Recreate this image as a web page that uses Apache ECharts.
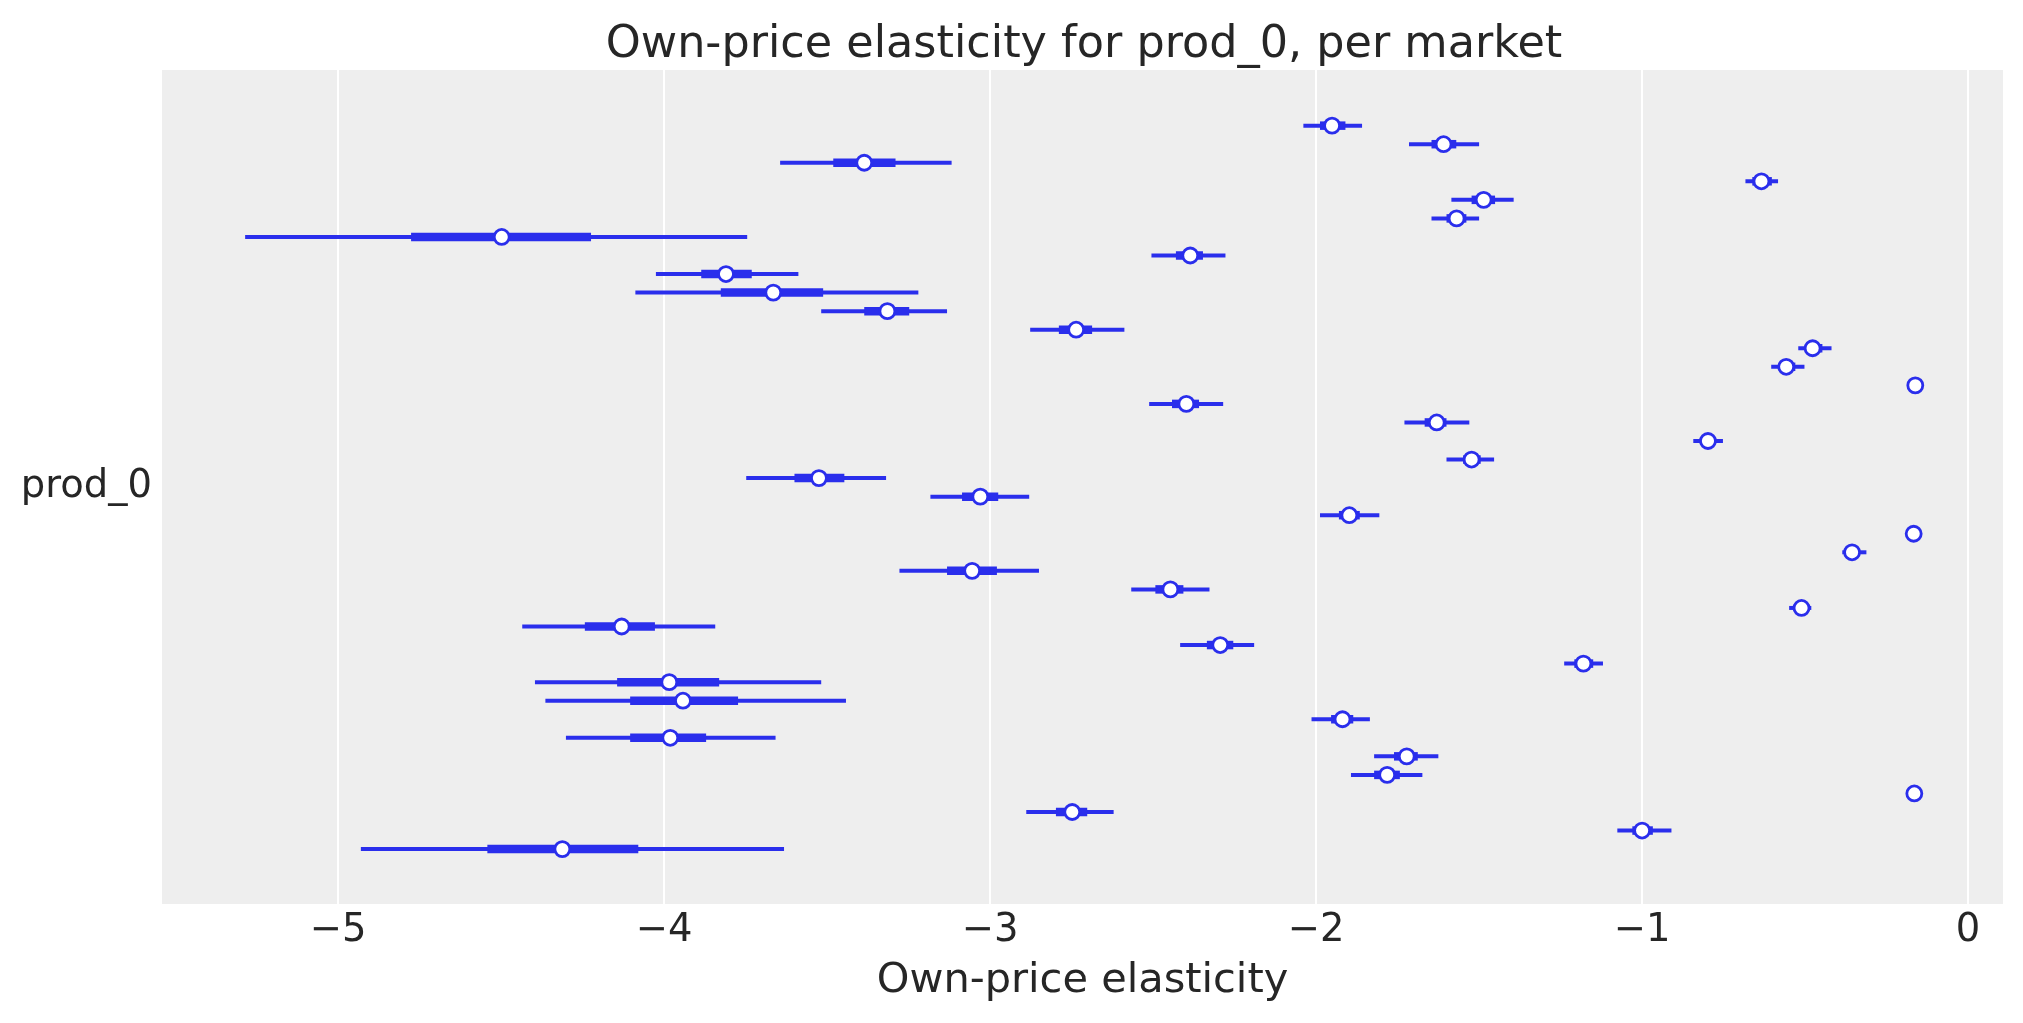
<!DOCTYPE html>
<html>
<head>
<meta charset="utf-8">
<title>Own-price elasticity for prod_0, per market</title>
<script src="https://cdn.jsdelivr.net/npm/echarts@6/dist/echarts.min.js"></script>
<style>
  html, body { margin: 0; padding: 0; background: #ffffff; }
  #chart { width: 2023px; height: 1023px; }
</style>
</head>
<body>
<div id="chart"></div>
<script>
// Forest plot data, one row per market (top to bottom)
const markets = Array.from({ length: 40 }, (_, i) => "market_" + i);

// Posterior median per market
const medians = [
  -1.951, -1.609, -3.386, -0.634, -1.486, -1.569, -4.498, -2.386, -3.810, -3.665,
  -3.315, -2.736, -0.477, -0.558, -0.162, -2.398, -1.630, -0.798, -1.523, -3.525,
  -3.030, -1.898, -0.167, -0.356, -3.055, -2.447, -0.511, -4.130, -2.294, -1.180,
  -3.984, -3.942, -1.919, -3.981, -1.722, -1.782, -0.165, -2.748, -1.000, -4.312,
];

// Wide (thin line) interval
const wideLow = [
  -2.039, -1.715, -3.644, -0.683, -1.585, -1.646, -5.285, -2.505, -4.025, -4.088,
  -3.518, -2.877, -0.521, -0.604, -0.168, -2.512, -1.729, -0.843, -1.600, -3.748,
  -3.183, -1.988, -0.173, -0.386, -3.278, -2.567, -0.549, -4.435, -2.417, -1.239,
  -4.396, -4.364, -2.014, -4.301, -1.822, -1.893, -0.171, -2.889, -1.076, -4.930,
];
const wideHigh = [
  -1.859, -1.500, -3.118, -0.583, -1.394, -1.500, -3.745, -2.278, -3.588, -3.220,
  -3.132, -2.588, -0.419, -0.502, -0.156, -2.285, -1.530, -0.752, -1.454, -3.319,
  -2.880, -1.806, -0.161, -0.312, -2.850, -2.327, -0.481, -3.843, -2.190, -1.120,
  -3.518, -3.442, -1.835, -3.658, -1.625, -1.674, -0.159, -2.621, -0.910, -3.632,
];

// Narrow (thick line) interval
const narrowLow = [
  -1.988, -1.646, -3.481, -0.662, -1.523, -1.600, -4.776, -2.430, -3.886, -3.826,
  -3.386, -2.789, -0.500, -0.580, -0.165, -2.442, -1.667, -0.820, -1.549, -3.600,
  -3.086, -1.930, -0.170, -0.372, -3.132, -2.493, -0.525, -4.243, -2.335, -1.208,
  -4.144, -4.104, -1.954, -4.104, -1.761, -1.822, -0.168, -2.798, -1.030, -4.542,
];
const narrowHigh = [
  -1.910, -1.570, -3.290, -0.602, -1.451, -1.539, -4.224, -2.347, -3.731, -3.512,
  -3.248, -2.687, -0.447, -0.530, -0.159, -2.359, -1.600, -0.775, -1.495, -3.447,
  -2.975, -1.866, -0.164, -0.342, -2.979, -2.407, -0.497, -4.028, -2.254, -1.150,
  -3.831, -3.773, -1.886, -3.871, -1.688, -1.743, -0.162, -2.702, -0.967, -4.079,
];

const xTicks = [-5, -4, -3, -2, -1, 0];
const yLabel = "prod_0";

const blue = "#2a2eec";
const textColor = "#262626";
const fontFamily = '"DejaVu Sans", "Liberation Sans", sans-serif';

const intervalData = markets.map((m, i) => [i, wideLow[i], wideHigh[i], narrowLow[i], narrowHigh[i]]);
const medianData = markets.map((m, i) => [medians[i], i]);

function fmtTick(v) {
  return v < 0 ? "\u2212" + Math.abs(v) : String(v);
}

const chart = echarts.init(document.getElementById("chart"), null, { renderer: "canvas" });

const option = {
  animation: false,
  backgroundColor: "#ffffff",
  textStyle: { fontFamily: fontFamily },
  title: {
    text: "Own-price elasticity for prod_0, per market",
    left: 1079,
    top: 18,
    textAlign: "center",
    textStyle: { fontFamily: fontFamily, fontSize: 44.5, fontWeight: "normal", color: textColor },
  },
  grid: {
    left: 162,
    right: 20,
    top: 70,
    bottom: 119,
    show: true,
    backgroundColor: "#eeeeee",
    borderWidth: 0,
  },
  xAxis: {
    type: "value",
    min: -5.54,
    max: 0.107,
    name: "Own-price elasticity",
    nameLocation: "middle",
    nameGap: 56,
    nameTextStyle: { fontFamily: fontFamily, fontSize: 41.5, color: textColor },
    axisLine: { show: false },
    axisTick: { show: false, customValues: xTicks },
    axisLabel: {
      customValues: xTicks,
      formatter: fmtTick,
      fontFamily: fontFamily,
      fontSize: 38.5,
      color: textColor,
      margin: 7,
    },
    splitLine: { show: true, lineStyle: { color: "#ffffff", width: 2 } },
  },
  yAxis: {
    type: "value",
    inverse: true,
    min: -3.0,
    max: 41.96,
    axisLine: { show: false },
    axisTick: { show: false, customValues: [19.5] },
    axisLabel: {
      customValues: [19.5],
      formatter: () => yLabel,
      fontFamily: fontFamily,
      fontSize: 38.5,
      color: textColor,
      margin: 10,
    },
    splitLine: { show: false },
  },
  series: [
    {
      type: "custom",
      name: "intervals",
      data: intervalData,
      encode: { x: [1, 2, 3, 4], y: 0 },
      renderItem: function (params, api) {
        const row = api.value(0);
        const a = api.coord([api.value(1), row]);
        const b = api.coord([api.value(2), row]);
        const c = api.coord([api.value(3), row]);
        const d = api.coord([api.value(4), row]);
        return {
          type: "group",
          children: [
            {
              type: "line",
              shape: { x1: a[0], y1: a[1], x2: b[0], y2: b[1] },
              style: { stroke: blue, lineWidth: 4, lineCap: "butt" },
            },
            {
              type: "line",
              shape: { x1: c[0], y1: c[1], x2: d[0], y2: d[1] },
              style: { stroke: blue, lineWidth: 8.5, lineCap: "butt" },
            },
          ],
        };
      },
      z: 2,
    },
    {
      type: "scatter",
      name: "median",
      data: medianData,
      symbol: "circle",
      symbolSize: 15,
      itemStyle: { color: "#ffffff", borderColor: blue, borderWidth: 2.8, opacity: 1 },
      z: 3,
    },
  ],
};

chart.setOption(option);
</script>
</body>
</html>
